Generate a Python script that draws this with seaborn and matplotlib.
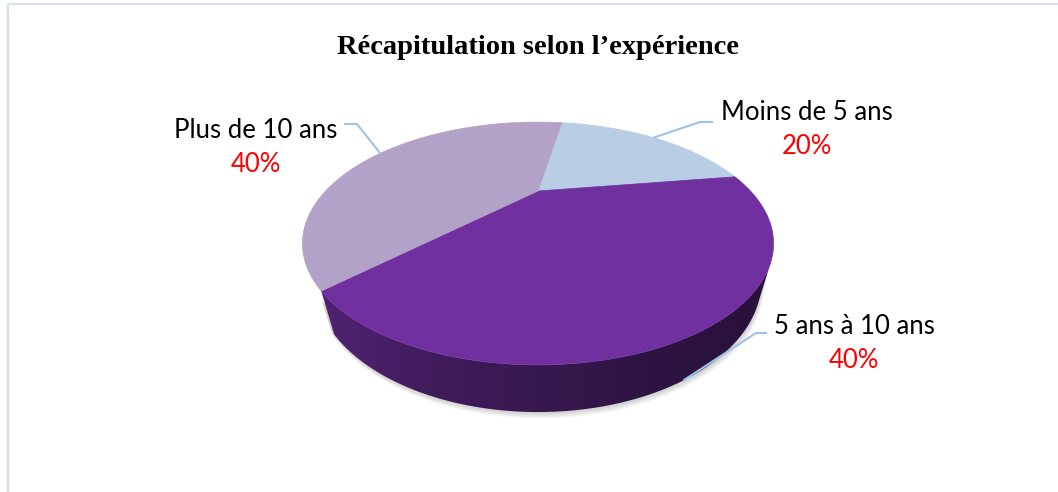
import numpy as np
import matplotlib
matplotlib.use("Agg")
import matplotlib.pyplot as plt
from matplotlib.patches import Polygon, Rectangle
from matplotlib.colors import to_rgb
import seaborn as sns

# data
categories = ["Moins de 5 ans", "5 ans à 10 ans", "Plus de 10 ans"]
values = [20, 40, 40]
pct_labels = ["20%", "40%", "40%"]
colors = ["#B9CDE5", "#7030A0", "#B3A2C7"]
title = "Récapitulation selon l’expérience"

# label placement (pixel space) and leader line elbows
label_pos = [(807, 113), (854, 327), (256, 131)]
leader_elbow = [(700, 122), (756, 333), (357, 124)]
leader_end = [(713, 122), (767, 333), (344, 124)]
anchor_on_bottom = [False, True, False]

sns.set_theme(style="white")

# 3d view settings
start_deg = 80.8
elev = np.radians(27.7)
cam_dist = 2.048
focal = 435.0
thick = 0.194
cx, cy = 538, 191


def project(theta, z=0.0):
    X = np.cos(theta)
    Y = np.sin(theta)
    s, c = np.sin(elev), np.cos(elev)
    u = Y * s + z * c
    d = cam_dist + Y * c - z * s
    return cx + focal * X / d, cy - focal * u / d


fig = plt.figure(figsize=(10.58, 4.92), dpi=100)
ax = fig.add_axes([0, 0, 1, 1])
ax.set_xlim(0, 1058)
ax.set_ylim(492, 0)
ax.axis("off")

# chart border
ax.add_patch(Rectangle((8, 4), 1080, 520, fill=False, edgecolor="#D6E0EE", lw=1.6, zorder=0))

total = float(sum(values))
edges = np.radians(start_deg) - np.concatenate([[0], np.cumsum(values)]) / total * 2 * np.pi

# soft shadow under the pie (front part only)
vis_lim = -1.0 / (cam_dist * np.cos(elev))
front = np.linspace(np.radians(-137), np.radians(-30), 200)
bx, by = project(front, -thick)
tx_, ty_ = project(front[::-1], -thick * 0.3)
for k in range(1, 9):
    ax.add_patch(Polygon(np.column_stack([np.r_[bx + k * 0.3, tx_], np.r_[by + k * 0.8, ty_]]),
                         closed=True, facecolor="#606060", edgecolor="none",
                         alpha=0.04, zorder=1))

# side wall of the slices that sit in front, shaded left->right
xs = np.linspace(0, 1058, 1058)
fac = np.interp(xs, [320, 440, 640, 770], [0.72, 0.57, 0.42, 0.36])
for i, col in enumerate(colors):
    mid = 0.5 * (edges[i] + edges[i + 1])
    if np.sin(mid) > vis_lim:
        continue
    th = np.linspace(edges[i], edges[i + 1], 400)
    th = th[np.sin(th) < vis_lim]
    tx0, ty0 = project(th)
    tx1, ty1 = project(th[::-1], -thick)
    wall = Polygon(np.column_stack([np.r_[tx0, tx1], np.r_[ty0, ty1]]), closed=True,
                   facecolor="none", edgecolor="none", zorder=2)
    ax.add_patch(wall)
    base = np.array(to_rgb(col))
    grad = np.clip(base[None, :] * fac[:, None], 0, 1)[None, :, :]
    grad = np.repeat(grad, 2, axis=0)
    im = ax.imshow(grad, extent=(0, 1058, 492, 0), aspect="auto", zorder=2,
                   interpolation="bilinear")
    im.set_clip_path(wall)

# top faces
for i, col in enumerate(colors):
    th = np.linspace(edges[i], edges[i + 1], 150)
    px, py = project(th)
    pts = np.vstack([[cx, cy], np.column_stack([px, py])])
    ax.add_patch(Polygon(pts, closed=True, facecolor=col, edgecolor=col, lw=0.5, zorder=3))

ax.set_xlim(0, 1058)
ax.set_ylim(492, 0)

# leader lines and labels
for i, name in enumerate(categories):
    mid = 0.5 * (edges[i] + edges[i + 1])
    z = -thick if anchor_on_bottom[i] else 0.0
    axp, ayp = project(mid, z)
    ex, ey = leader_elbow[i]
    lx, ly = leader_end[i]
    ax.plot([axp, ex, lx], [ayp, ey, ly], color="#9DC3E6", lw=1.5, zorder=4,
            solid_capstyle="butt")
    tx, ty = label_pos[i]
    ax.text(tx, ty, name, ha="center", va="center", fontsize=18.5,
            family="Lato", color="black", zorder=5)
    ax.text(tx, ty + 34, pct_labels[i], ha="center", va="center", fontsize=18.5,
            family="Lato", color="#FF0000", zorder=5)

ax.text(538, 47, title, ha="center", va="center", fontsize=20.5, fontweight="bold",
        family="Liberation Serif", color="black")

fig.savefig("out.png", dpi=100)
